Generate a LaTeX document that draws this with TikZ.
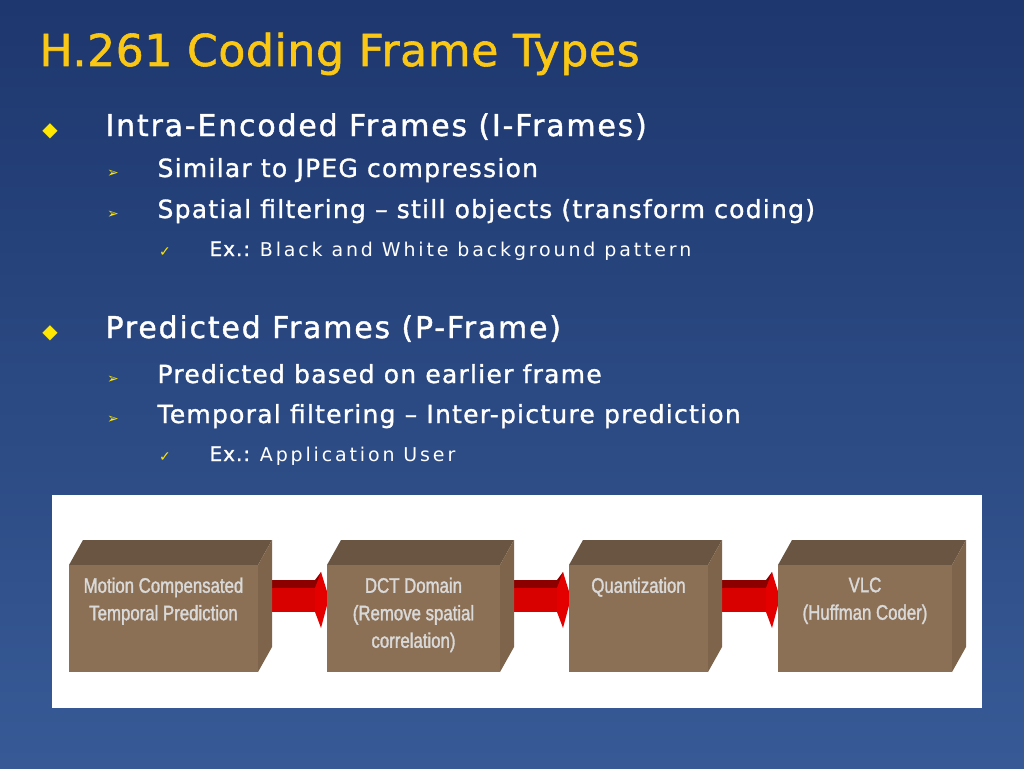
\documentclass[tikz,border=0pt]{standalone}
\usepackage{fontspec}
\setmainfont{DejaVu Sans}
\newfontfamily\sym{DejaVu Sans}
\newfontfamily\hone[FakeBold=1.3,LetterSpace=6]{DejaVu Sans}
\newfontfamily\htwo[FakeBold=1.2,LetterSpace=5]{DejaVu Sans}
\newfontfamily\hthree[LetterSpace=15]{DejaVu Sans}
\newfontfamily\httl[FakeBold=1.3,LetterSpace=1.5]{DejaVu Sans}
\newfontfamily\narrow[FakeStretch=0.8,FakeBold=1.5]{Liberation Sans}
\definecolor{boxtop}{RGB}{105,85,65}
\definecolor{boxside}{RGB}{125,100,75}
\definecolor{boxfront}{RGB}{140,112,85}
\definecolor{bgtop}{RGB}{30,55,110}
\definecolor{bgbot}{RGB}{55,90,150}
\definecolor{titlec}{RGB}{250,200,20}
\begin{document}
\begin{tikzpicture}[x=1pt,y=-1pt,
  lone/.style={anchor=base west,text=white,font=\hone\fontsize{30}{30}\selectfont},
  ltwo/.style={anchor=base west,text=white,font=\htwo\fontsize{25}{26}\selectfont},
  lthree/.style={anchor=base west,text=white,font=\htwo\fontsize{20}{24}\selectfont},
  bul/.style={anchor=base,text=yellow!90!orange},
  boxtxt/.style={align=center,anchor=north,text=black!15,font=\narrow\fontsize{21}{27.5}\selectfont}]
\useasboundingbox (0,0) rectangle (1024,768);
\shade[top color=bgtop,bottom color=bgbot] (0,0) rectangle (1024,768);
\node[anchor=base west,text=titlec,font=\httl\fontsize{44}{44}\selectfont] (title) at (36,66) {H.261 Coding Frame Types};
\node[bul,font=\sym\fontsize{20}{20}\selectfont] (b1) at (50,136) {◆};
\node[lone] (t1) at (102,136) {Intra-Encoded Frames (I-Frames)};
\node[bul,font=\sym\fontsize{14}{14}\selectfont] (b2) at (113,177) {➢};
\node[ltwo] (t2) at (154,177) {Similar to JPEG compression};
\node[bul,font=\sym\fontsize{14}{14}\selectfont] (b3) at (113,218) {➢};
\node[ltwo] (t3) at (154,218) {Spatial filtering – still objects (transform coding)};
\node[bul,font=\sym\fontsize{14}{14}\selectfont] (b4) at (165,256) {✓};
\node[lthree] (t4) at (206,256) {Ex.: {\hthree\fontsize{19}{22}\selectfont Black and White background pattern}};
\node[bul,font=\sym\fontsize{20}{20}\selectfont] (b5) at (50,338) {◆};
\node[lone] (t5) at (102,338) {Predicted Frames (P-Frame)};
\node[bul,font=\sym\fontsize{14}{14}\selectfont] (b6) at (113,383) {➢};
\node[ltwo] (t6) at (154,383) {Predicted based on earlier frame};
\node[bul,font=\sym\fontsize{14}{14}\selectfont] (b7) at (113,423) {➢};
\node[ltwo] (t7) at (154,423) {Temporal filtering – Inter-picture prediction};
\node[bul,font=\sym\fontsize{14}{14}\selectfont] (b8) at (165,461) {✓};
\node[lthree] (t8) at (206,461) {Ex.: {\hthree\fontsize{19}{22}\selectfont Application User}};
\fill[white] (52,495) rectangle (982,708);
% arrows
\foreach \a/\b in {258/327,500/569,708/778}{
  \fill[red!55!black] (\a,588) -- (\a+6,580) -- (\b-12,580) -- (\b-6,572) -- (\b-6,588) -- cycle;
  \fill[red!85!black] (\a,588) rectangle (\b-12,612);
  \fill[red!90!black] (\b-12,588) -- (\b-6,572) -- (\b+2,598) -- (\b-6,628) -- (\b-12,612) -- cycle;
}
% boxes
\foreach \x/\w/\n/\t in {69/189/bx1/{Motion Compensated\\Temporal Prediction},327/173/bx2/{DCT Domain\\(Remove spatial\\correlation)},569/139/bx3/{Quantization},778/174/bx4/{VLC\\(Huffman Coder)}}{
  \fill[boxtop] (\x,565) -- (\x+14,540) -- (\x+\w+14,540) -- (\x+\w,565) -- cycle;
  \fill[boxside] (\x+\w,565) -- (\x+\w+14,540) -- (\x+\w+14,647) -- (\x+\w,672) -- cycle;
  \fill[boxfront] (\x,565) rectangle (\x+\w,672);
  \node[boxtxt] (\n) at (\x+\w/2,574) {\t};
}
\end{tikzpicture}
\end{document}
